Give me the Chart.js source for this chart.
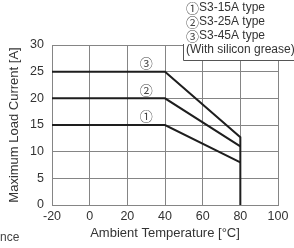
<!DOCTYPE html>
<html>
<head>
<meta charset="utf-8">
<script src="https://cdn.jsdelivr.net/npm/chart.js@4"></script>
<style>
  html, body { margin: 0; padding: 0; background: #fff; }
  canvas { display: block; }
</style>
</head>
<body>
<canvas id="grafica" width="294" height="248"></canvas>
<script>
// datos
const temp15 = [-20, 40, 80];
const carga15 = [15, 15, 8];
const temp25 = [-20, 40, 80];
const carga25 = [20, 20, 11];
const temp45 = [-20, 40, 80, 80];
const carga45 = [25, 25, 12.7, 0];

const ticksX = [-20, 0, 20, 40, 60, 80, 100];
const ticksY = [0, 5, 10, 15, 20, 25, 30];

const marcas = ['\u2460', '\u2461', '\u2462'];
const marcasX = [30, 30, 30];
const marcasY = [16.6, 21.6, 26.6];

const leyendaMarcas = ['\u2460', '\u2461', '\u2462', ''];
const leyenda = ['S3-15A type', 'S3-25A type', 'S3-45A type', '(With silicon grease)'];

const fuente = '"Liberation Sans", Arial, Helvetica, sans-serif';
const fuenteCirculo = '"Noto Sans CJK JP", "DejaVu Sans", sans-serif';
const colorTexto = '#333';
const colorRejilla = '#858585';
const colorLinea = '#1e1e1e';

function puntos(xs, ys) {
    return xs.map((x, i) => ({ x: x, y: ys[i] }));
}

const extras = {
    id: 'extras',
    afterDraw(chart) {
        const ctx = chart.ctx;
        const sx = chart.scales.x;
        const sy = chart.scales.y;
        ctx.save();

        // numeros circulados
        ctx.fillStyle = '#444';
        ctx.font = '13px ' + fuenteCirculo;
        ctx.textAlign = 'center';
        ctx.textBaseline = 'middle';
        marcas.forEach((m, i) => {
            ctx.fillText(m, sx.getPixelForValue(marcasX[i]), sy.getPixelForValue(marcasY[i]));
        });

        // caja de leyenda
        ctx.fillStyle = '#fff';
        ctx.fillRect(183, 0, 111, 60);
        ctx.strokeStyle = '#555';
        ctx.lineWidth = 1;
        ctx.beginPath();
        ctx.moveTo(183.5, 44);
        ctx.lineTo(183.5, 60.5);
        ctx.lineTo(294, 60.5);
        ctx.stroke();

        ctx.textAlign = 'left';
        leyenda.forEach((t, i) => {
            let x = 186;
            if (leyendaMarcas[i]) {
                ctx.fillStyle = '#444';
                ctx.font = '13px ' + fuenteCirculo;
                ctx.fillText(leyendaMarcas[i], 186, 8 + i * 14);
                x = 199;
            }
            ctx.fillStyle = colorTexto;
            ctx.font = '12px ' + fuente;
            ctx.fillText(t, x, 8 + i * 14);
        });

        ctx.fillStyle = '#444';
        ctx.font = '12px ' + fuente;
        ctx.fillText('nce', 0, 238);
        ctx.restore();
    }
};

const ctx = document.getElementById('grafica').getContext('2d');

new Chart(ctx, {
    type: 'line',
    data: {
        datasets: [
            { label: 'S3-15A', data: puntos(temp15, carga15) },
            { label: 'S3-25A', data: puntos(temp25, carga25) },
            { label: 'S3-45A', data: puntos(temp45, carga45) }
        ]
    },
    options: {
        responsive: false,
        animation: false,
        devicePixelRatio: 1,
        layout: { padding: { top: 45, right: 16, left: 0, bottom: 0 } },
        elements: {
            line: { borderColor: colorLinea, borderWidth: 2, tension: 0, fill: false },
            point: { radius: 0 }
        },
        plugins: {
            legend: { display: false },
            tooltip: { enabled: false }
        },
        scales: {
            x: {
                type: 'linear',
                min: -20,
                max: 100,
                afterBuildTicks: s => { s.ticks = ticksX.map(v => ({ value: v })); },
                afterFit: s => { s.height = 43; },
                ticks: { color: colorTexto, font: { family: fuente, size: 12.5 }, padding: 4, maxRotation: 0 },
                grid: { color: colorRejilla, drawTicks: false },
                border: { color: colorRejilla },
                title: {
                    display: true,
                    text: 'Ambient Temperature [\u00b0C]',
                    color: colorTexto,
                    font: { family: fuente, size: 13 },
                    padding: { top: 0, bottom: 7 }
                }
            },
            y: {
                min: 0,
                max: 30,
                afterBuildTicks: s => { s.ticks = ticksY.map(v => ({ value: v })); },
                afterFit: s => { s.width = 52; },
                ticks: { color: colorTexto, font: { family: fuente, size: 12.5 }, padding: 8 },
                grid: { color: colorRejilla, drawTicks: false },
                border: { color: colorRejilla },
                title: {
                    display: true,
                    text: 'Maximum Load Current [A]',
                    color: colorTexto,
                    font: { family: fuente, size: 13 },
                    padding: { top: 7, bottom: 0 }
                }
            }
        }
    },
    plugins: [extras]
});
</script>
</body>
</html>
